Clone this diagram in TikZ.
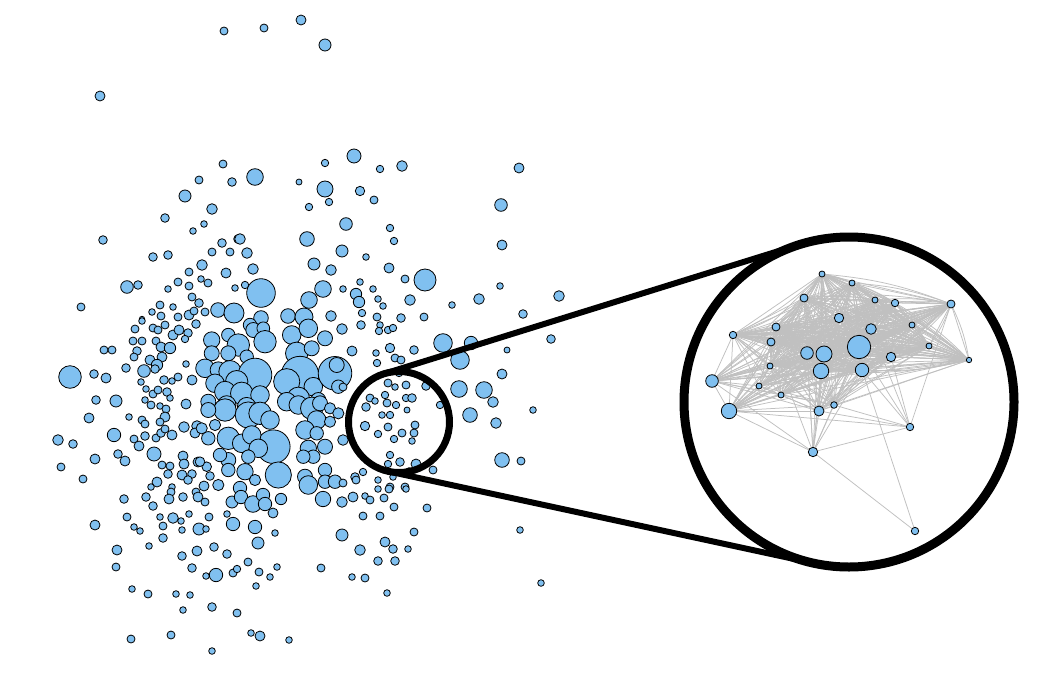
\documentclass[tikz,border=0pt]{standalone}
\definecolor{dotblue}{RGB}{128,192,240}
\definecolor{edgegray}{RGB}{192,192,192}
\tikzset{
  dot/.style={draw=black,fill=dotblue,line width=0.8pt},
  edge/.style={draw=edgegray,line width=0.75pt},
  ring/.style={draw=black},
  zoomline/.style={draw=black,line width=6pt}
}
\begin{document}
\begin{tikzpicture}[x=1pt,y=-1pt]
\fill[white] (0,0) rectangle (1051,693);
\useasboundingbox (0,0) rectangle (1051,693);
% scatter points
\foreach \x/\y/\r in {224/31/4, 264/28/4, 301/20/5, 325/45/6, 100/96/5,
223/164/4, 199/180/4, 232/182/4.3, 185/196/6, 212/209/5.3, 165/218/4.3, 204/224/3.3, 193/231/3.3, 103/240/4.3, 238/239/4.3, 222/243/4.3, 153/257/4.3, 168/255/4.3, 212/252/4, 230/252/4, 202/265/5.3, 189/272/4, 226/273/5, 201/279/3.3, 208/283/4, 127/287/6.3, 138/285/4.3, 178/282/4, 189/286/4, 168/289/3.3, 235/288/3.3, 192/297/4, 199/303/4.3, 160/305/4, 173/307/3.3, 152/312/3.3, 161/316/4, 178/317/4, 189/315/5, 194/311/4, 205/312/4, 218/310/7.3, 234/313/10, 81/307/4, 142/319/2.7,
354/156/7, 325/163/3.7, 380/169/3.7, 402/166/5.3, 255/177/8.3, 299/182/3, 325/189/8, 360/191/4.7, 374/200/4, 329/202/3.7, 309/207/3.7, 346/224/6.3, 390/228/3.7, 394/241/3.7, 307/239/7.3, 240/239/5.3, 247/253/5.3, 342/251/6, 366/257/3.3, 314/264/6, 331/270/5.3, 389/268/5, 253/269/5.3, 245/285/3.7, 261/293/14.3, 323/289/8.3, 343/289/3.3, 360/282/3.3, 373/289/3.3, 356/294/5.7, 359/302/5.7, 378/299/3.3, 383/306/3.3, 309/300/8.3, 261/318/7.3, 288/316/7.3, 304/317/9, 331/316/5.3, 362/313/3.7, 377/317/4,
519/168/5, 501/205/6.3, 502/245/5, 405/279/4, 425/280/11, 500/286/3.3, 559/296/5.3, 410/300/5.3, 452/305/3.3, 479/299/5.3, 523/314/4.3, 401/318/4.3, 424/317/4}
  \draw[dot] (\x,\y) circle[radius=\r pt];
\foreach \x/\y/\r in {142/321/3.3, 135/329/4, 153/328/4, 158/330/4, 165/325/4, 173/335/5, 179/330/5, 188/333/4.3, 196/324/4.3, 185/339/3.7, 104/350/4, 112/350/4, 133/341/4, 142/341/4, 156/341/4, 137/351/4.3, 134/357/4, 161/347/5, 170/348/5.7, 162/357/5, 150/360/5, 157/365/5.7, 186/364/3.3, 126/368/4.3, 144/371/6.3, 155/369/4.3, 70/377/11.3, 94/374/4.3, 106/378/5, 141/382/3.3, 164/380/4.3, 172/381/3.3, 178/377/4, 192/380/5, 146/389/3.3, 153/394/4, 158/390/4, 167/392/4.3, 170/398/3.3, 96/400/4.3, 116/401/6, 145/400/3.3, 151/405/4, 160/406/3.3, 186/404/5, 89/418/5, 129/417/3.3, 142/420/4, 145/424/4, 166/409/4, 165/417/5, 160/422/4, 184/427/5.3, 197/426/5.3, 195/433/5, 114/435/6.7, 58/440/5.3, 73/444/4.3, 134/439/4, 145/436/4.3, 139/446/5, 156/438/4, 161/433/4.3, 165/429/4, 172/435/5, 154/454/7, 118/454/4.3, 125/461/5, 95/459/5, 61/467/4, 162/465/4, 170/466/4, 183/456/5, 184/464/5, 198/462/5, 168/474/4.3, 182/475/5, 192/474/4.3, 188/480/4.3, 210/476/4.3, 83/479/4, 157/482/5, 151/487/3.3, 172/487/3.3, 204/486/5}
  \draw[dot] (\x,\y) circle[radius=\r pt];
% dense centre
\foreach \x/\y/\r in {211.7/340/7.3, 228.3/335/6, 238.3/345/10, 250/325/6, 253.3/330/6.7, 263.3/328.3/5.7, 265/341.7/10, 211.7/353.3/6.7, 228.3/353.3/6.7, 246.7/356.7/6, 205/368.3/8.3, 218.3/370/7.3, 230/371.7/10, 255/375/15, 236.7/381.7/10, 215/383.3/8.3, 225/391.7/9.3, 241.7/393.3/10, 260/395/8.3, 208.3/401.7/6.7, 226.7/405/8.3, 246.7/406.7/8.3,
291.7/335/8.3, 308.3/328.3/8.3, 296.7/353.3/10, 311.7/348.3/6.7, 325/338.3/6.7, 300/375/16.7, 286.7/381.7/11.7, 313.3/386.7/8.3, 298.3/398.3/10, 318.3/400/6.7, 335/373.3/15, 336.7/365/6.7, 338.3/386.7/6, 286.7/401.7/8.3,
225/410/10, 208.3/410/6.7, 248.3/415/11.7, 260/413.3/10, 270/420/8.3, 273.3/446.7/15, 278.3/475/11.7, 228.3/438.3/10, 241.7/443.3/8.3, 251.7/435/8.3, 258.3/448.3/8.3, 248.3/456.7/6, 228.3/460/6.7, 220/455/6, 228.3/470/6, 245/471.7/7.3, 208.3/438.3/6, 201.7/428.3/5, 215/425/5, 206.7/466.7/4.3, 200/461.7/4.3, 218.3/485/5, 255/480/5,
298.3/405/8.3, 311.7/408.3/10, 320/403.3/6.7, 330/408.3/5, 316.7/420/8.3, 305/430/8.3, 316.7/433.3/6, 330/421.7/5, 325/446.7/6.7, 308.3/448.3/7.3, 313.3/456.7/6, 303.3/456.7/6, 338.3/413.3/5, 305/476.7/6.7, 308.3/485/8.3, 325/470/6, 325/481.7/6, 335/481.7/6}
  \draw[dot] (\x,\y) circle[radius=1.12*\r pt];
\foreach \x/\y/\r in {361/325/4.3, 342/329/5.3, 380/325/3.3, 379/331/3.7, 388/330/3.7, 393/328/3.7, 352/351/5, 376/353/3.3, 377/363/3.7, 395/358/4, 343/387/4, 370/398/4, 366/407/4.3, 375/401/3.3, 385/395/3.7, 388/383/4, 395/387/3.3, 387/403/4, 396/405/3.7, 382/415/3.3, 390/415/3.7, 365/426/4.7, 378/434/3.7, 388/427/4, 394/439/3.7, 390/455/3.7, 388/464/3.7, 393/477/3.3, 378/480/3.3, 355/477/4.3, 363/472/3.7, 343/440/5.3, 343/483/4, 356/480/4}
  \draw[dot] (\x,\y) circle[radius=\r pt];
\foreach \x/\y/\r in {443/343/9.3, 471/343/6.7, 390/348/4.7, 414/350/4.3, 551/339/4.3, 507/350/3, 401/360/4, 460/360/9.3, 502/374/5, 399/373/3.7, 406/385/4, 426/386/4.3, 459/389/8.3, 484/390/8.3, 493/402/5.3, 406/398/3.7, 412/398/4.3, 407/410/3, 440/405/3.7, 533/410/3.3, 470/415/7.3, 496/423/5.3, 415/425/4, 402/433/4, 414/433/4, 412/441/3.3, 400/462/4.3, 416/464/5, 433/470/4, 409/471/3.3, 502/460/7.3, 521/461/4, 405/487/4, 390/487/4,
124/499/4.3, 146/497/4.3, 153/506/4.3, 171/492/4, 169/499/5, 183/497/4.3, 196/492/4, 198/497/5, 205/502/4, 232/502/6, 127/517/4, 160/517/3.3, 173/518/5.3, 181/521/3.3, 189/514/3.3, 209/517/4, 227/514/3.3, 233/524/6.7, 95/525/5, 134/527/3.3, 140/531/3.3, 163/526/4, 182/530/3.3, 199/529/6, 206/529/3.3, 163/538/4.3, 149/546/3.3, 117/550/5, 182/556/4.3, 197/551/5, 214/547/4.3, 227/554/4.3, 116/567/4, 192/568/4.3, 206/576/3.3, 216/575/6.7, 233/573/4, 132/589/3.3, 148/594/4, 176/594/3.3, 190/595/3.3, 183/610/3.3, 212/607/4.3, 237/613/4, 131/639/4, 171/635/4, 212/651/3.3,
240/488/6.7, 241/497/6.7, 253/504/8.3, 263/495/6.7, 265/504/6.7, 273/513/5, 281/499/5.7, 323/499/7.7, 342/502/5.3, 353/497/5, 365/496/3.3, 370/500/4, 378/489/3.3, 389/489/4, 406/489/3.3, 384/498/4, 394/507/4, 427/508/4, 363/516/4, 380/516/4, 255/527/6.7, 275/533/3.3, 342/535/6, 414/532/4, 258/543/6, 385/542/5, 393/549/4.3, 408/549/3.3, 360/550/5.3, 378/561/4.3, 395/561/4.3, 248/562/4, 277/567/3.3, 237/569/3.7, 259/572/4, 270/577/3.3, 256/586/3.3, 321/568/4, 352/577/3.3, 365/578/4, 387/593/3.3, 251/633/3.3, 260/636/5, 289/640/3.3, 520/530/3.3, 541/583/3.3}
  \draw[dot] (\x,\y) circle[radius=\r pt];
% zoom frame
\coordinate (smallc) at (399,422);
\coordinate (bigc) at (849,402);
\coordinate (tu1) at (384.0,373.8);
\coordinate (tu2) at (800.0,244.4);
\coordinate (tl1) at (388.3,471.4);
\coordinate (tl2) at (814.2,563.3);
\draw[zoomline] (tu1) -- (tu2);
\draw[zoomline] (tl1) -- (tl2);
\fill[white] (bigc) circle[radius=163pt];
\draw[ring,line width=7pt] (smallc) circle[radius=50.5pt];
% magnified network
\foreach \x/\y [count=\k] in {822/274, 852/283, 804/298, 875/300, 895/303, 951/304, 839/318, 871/329, 776/327, 912/325, 733/335, 771/342, 929/346, 859/347, 807/353, 824/354, 891/357, 969/360, 770/366, 821/371, 862/370, 712/381, 759/386, 781/395, 834/405, 819/411, 729/411, 910/427, 813/452, 915/531}
  \coordinate (n\k) at (\x,\y);
\foreach \i in {1,...,24}{
  \foreach \j in {1,...,24}{
    \ifnum\i<\j \draw[edge] (n\i) -- (n\j);\fi
  }
}
\foreach \i in {1,...,21}{
  \foreach \j in {1,...,21}{
    \ifnum\i<\j \draw[edge] (n\i) to[bend left=8] (n\j);\fi
  }
}
\foreach \i in {25,26,27}{
  \foreach \j in {1,...,24}{ \draw[edge] (n\i) -- (n\j); }
}
\foreach \a/\b in {25/26, 25/27, 26/27, 29/22, 29/27, 29/26, 29/25, 29/20, 29/16, 29/15, 29/14, 29/3, 29/1, 29/28, 29/30, 29/21, 29/12, 28/26, 28/25, 28/21, 28/14, 28/27, 28/6, 28/17, 28/8, 30/21}
  \draw[edge] (n\a) -- (n\b);
\draw[ring,line width=9pt] (bigc) circle[radius=165pt];
\foreach \r [count=\k] in {3,3,4,3,3.7,4,4.7,5.3,4,3,3.7,4,3,11.7,6.3,8,4.7,2.7,3,7.7,6.7,6.3,3,3,3.3,5,7.7,3.7,4.7,3.7}
  \draw[dot] (n\k) circle[radius=\r pt];
\end{tikzpicture}
\end{document}
